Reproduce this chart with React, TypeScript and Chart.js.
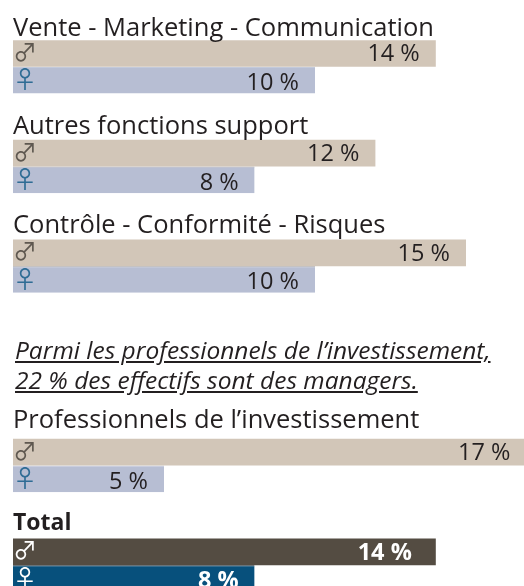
import React, { useEffect, useRef } from "react";
import { Chart, registerables } from "chart.js";

Chart.register(...registerables);

const categories = [
  "Vente - Marketing - Communication",
  "Autres fonctions support",
  "Contrôle - Conformité - Risques",
  "",
  "Professionnels de l’investissement",
  "Total",
];
const maleValues = [14, 12, 15, null, 17, 14];
const femaleValues = [10, 8, 10, null, 5, 8];
const noteLines = [
  "Parmi les professionnels de l’investissement,",
  "22 % des effectifs sont des managers.",
];

const FONT = "'Open Sans', sans-serif";
const SYMBOL_FONT = "'Noto Sans CJK JP'";
const maleColors = ["#d2c6b8", "#d2c6b8", "#d2c6b8", "#d2c6b8", "#d2c6b8", "#544c42"];
const femaleColors = ["#b7bed3", "#b7bed3", "#b7bed3", "#b7bed3", "#b7bed3", "#07507c"];
const femaleTopLines = ["#b7bed3", "#8f919c", "#8f919c", "#b7bed3", "#b7bed3", "#06233a"];
const titleGaps = [4, 6, 7, 0, 11, 9];

const labelsPlugin = {
  id: "labels",
  afterDatasetsDraw(chart: any) {
    const { ctx, scales } = chart;
    const x = scales.x;
    const male = chart.getDatasetMeta(0).data;
    const female = chart.getDatasetMeta(1).data;
    ctx.save();
    categories.forEach((name, i) => {
      if (!name) return;
      const total = name === "Total";
      const maleBar = male[i];
      const femaleBar = female[i];
      const mTop = maleBar.y - maleBar.height / 2;
      const mBottom = maleBar.y + maleBar.height / 2;
      const fBottom = femaleBar.y + femaleBar.height / 2;
      ctx.textBaseline = "alphabetic";
      ctx.textAlign = "left";
      ctx.fillStyle = "#231f20";
      ctx.font = `${total ? "bold 23" : "25.5"}px ${FONT}`;
      ctx.fillText(name, 13, mTop - titleGaps[i]);
      ctx.font = `24px ${SYMBOL_FONT}`;
      ctx.fillStyle = total ? "#ffffff" : "#5f5850";
      ctx.fillText("♂", 13, mBottom - 6);
      ctx.fillStyle = total ? "#ffffff" : "#2f6c95";
      ctx.fillText("♀", 13, fBottom - 5);
      ctx.textAlign = "right";
      ctx.font = `${total ? "bold " : ""}23.5px ${FONT}`;
      ctx.fillStyle = total ? "#ffffff" : "#231f20";
      ctx.fillText(`${maleValues[i]} %`, x.getPixelForValue(maleValues[i]) - (total ? 24 : 16), mBottom - 5.5);
      ctx.fillText(`${femaleValues[i]} %`, x.getPixelForValue(femaleValues[i]) - 16, fBottom - 3.5);
    });
    ctx.restore();
  },
};

export default function App() {
  const ref = useRef<HTMLCanvasElement>(null);
  useEffect(() => {
    document.body.style.margin = "0";
    const chart = new Chart(ref.current!, {
      type: "bar",
      data: {
        labels: categories,
        datasets: [
          { data: maleValues, backgroundColor: maleColors, borderWidth: 0 },
          {
            data: femaleValues,
            backgroundColor: femaleColors,
            borderColor: femaleTopLines,
            borderWidth: { top: 1, left: 0, right: 0, bottom: 0 },
            borderSkipped: false,
          },
        ] as any,
      },
      options: {
        indexAxis: "y",
        animation: false,
        responsive: false,
        maintainAspectRatio: false,
        layout: { padding: { left: 13, top: 17, right: 0, bottom: 0 } },
        datasets: { bar: { categoryPercentage: 0.535, barPercentage: 1 } },
        plugins: { legend: { display: false }, tooltip: { enabled: false } },
        scales: {
          x: { display: false, min: 0, max: 20 },
          y: { display: false },
        },
      } as any,
      plugins: [labelsPlugin],
    });
    return () => chart.destroy();
  }, []);
  return (
    <div style={{ position: "relative", width: 524, height: 586, overflow: "hidden", background: "#fff" }}>
      <canvas ref={ref} width={617} height={615} style={{ display: "block", width: 617, height: 615 }} />
      <div
        style={{
          position: "absolute",
          left: 15,
          top: 335,
          fontFamily: FONT,
          fontStyle: "italic",
          fontSize: 24.5,
          lineHeight: "30px",
          color: "#231f20",
          textDecoration: "underline",
          whiteSpace: "nowrap",
        }}
      >
        {noteLines.map((l) => (
          <div key={l}>{l}</div>
        ))}
      </div>
    </div>
  );
}
